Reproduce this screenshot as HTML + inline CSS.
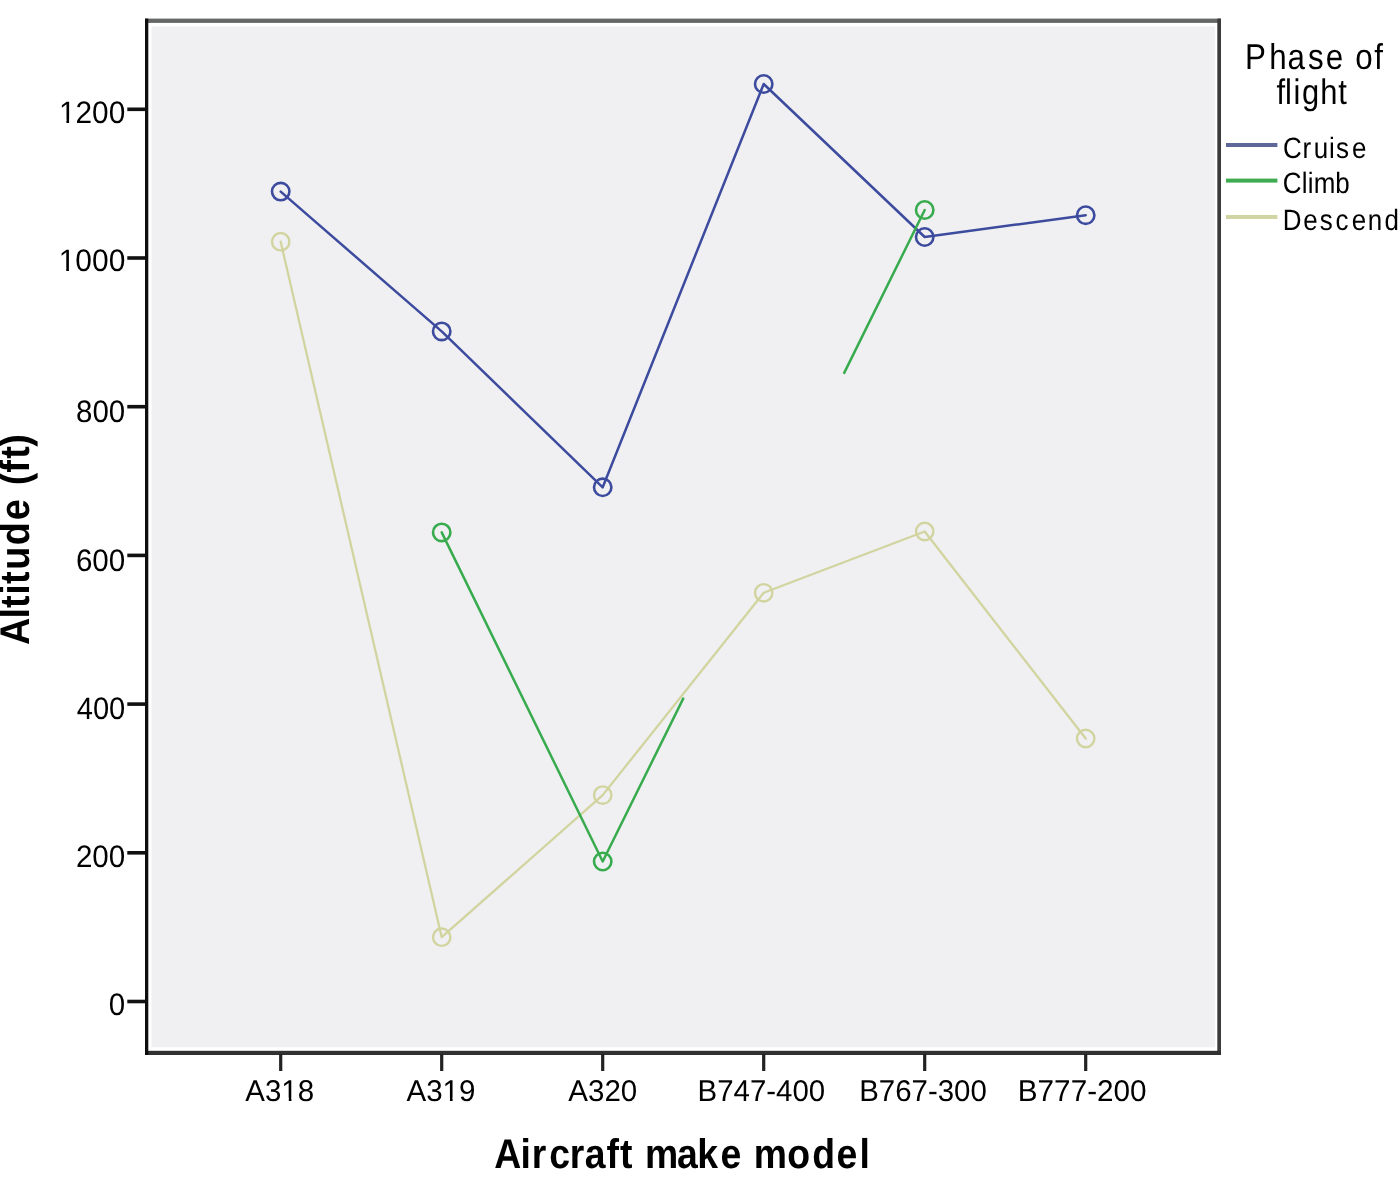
<!DOCTYPE html><html><head><meta charset="utf-8"><style>html,body{margin:0;padding:0;background:#fff;overflow:hidden;width:1400px;height:1185px}svg{display:block;filter:blur(0.5px)}text{font-family:"Liberation Sans",sans-serif;fill:#000;text-rendering:geometricPrecision}</style></head><body>
<svg width="1400" height="1185" viewBox="0 0 1400 1185">
<rect x="0" y="0" width="1400" height="1185" fill="#fff"/>
<rect x="151.5" y="26.5" width="1063.7" height="1020.8" fill="#f0f0f2"/>
<rect x="145" y="18.6" width="1076" height="4.3" fill="#656766"/>
<rect x="1217.3" y="18.6" width="3.7" height="1036.4" fill="#3a3a3a"/>
<rect x="145" y="1050.8" width="1076" height="4.2" fill="#313131"/>
<rect x="145" y="18.6" width="3.3" height="1036.4" fill="#0e0e0e"/>
<rect x="127.3" y="999.7" width="18" height="3.6" fill="#111"/>
<text x="108.85" y="1014.80" font-size="31" textLength="16.40" lengthAdjust="spacingAndGlyphs">0</text>
<rect x="127.3" y="851.0" width="18" height="3.6" fill="#111"/>
<text x="75.91" y="866.50" font-size="31" textLength="49.34" lengthAdjust="spacingAndGlyphs">200</text>
<rect x="127.3" y="702.3" width="18" height="3.6" fill="#111"/>
<text x="76.73" y="718.50" font-size="31" textLength="48.50" lengthAdjust="spacingAndGlyphs">400</text>
<rect x="127.3" y="553.6" width="18" height="3.6" fill="#111"/>
<text x="75.90" y="570.70" font-size="31" textLength="49.36" lengthAdjust="spacingAndGlyphs">600</text>
<rect x="127.3" y="404.9" width="18" height="3.6" fill="#111"/>
<text x="76.12" y="422.00" font-size="31" textLength="49.13" lengthAdjust="spacingAndGlyphs">800</text>
<rect x="127.3" y="256.2" width="18" height="3.6" fill="#111"/>
<text x="58.72" y="271.20" font-size="31" textLength="66.55" lengthAdjust="spacingAndGlyphs">1000</text><rect x="60.33" y="267.84" width="5.89" height="4.96" fill="#fff"/><rect x="68.92" y="267.84" width="5.80" height="4.96" fill="#fff"/>
<rect x="127.3" y="107.5" width="18" height="3.6" fill="#111"/>
<text x="58.93" y="122.80" font-size="31" textLength="66.33" lengthAdjust="spacingAndGlyphs">1200</text><rect x="60.53" y="119.44" width="5.87" height="4.96" fill="#fff"/><rect x="69.09" y="119.44" width="5.78" height="4.96" fill="#fff"/>
<rect x="279.1" y="1054" width="3.2" height="17" fill="#222"/>
<text x="245.34" y="1101.00" font-size="30" textLength="68.84" lengthAdjust="spacingAndGlyphs">A318</text><rect x="282.98" y="1097.71" width="5.80" height="4.89" fill="#fff"/><rect x="291.44" y="1097.71" width="5.71" height="4.89" fill="#fff"/>
<rect x="440.1" y="1054" width="3.2" height="17" fill="#222"/>
<text x="406.44" y="1101.00" font-size="30" textLength="68.96" lengthAdjust="spacingAndGlyphs">A319</text><rect x="444.14" y="1097.71" width="5.81" height="4.89" fill="#fff"/><rect x="452.62" y="1097.71" width="5.72" height="4.89" fill="#fff"/>
<rect x="601.1" y="1054" width="3.2" height="17" fill="#222"/>
<text x="568.34" y="1101.00" font-size="30" textLength="68.91" lengthAdjust="spacingAndGlyphs">A320</text>
<rect x="762.1" y="1054" width="3.2" height="17" fill="#222"/>
<text x="697.59" y="1101.00" font-size="30" textLength="127.56" lengthAdjust="spacingAndGlyphs">B747-400</text>
<rect x="923.1" y="1054" width="3.2" height="17" fill="#222"/>
<text x="859.19" y="1101.00" font-size="30" textLength="127.56" lengthAdjust="spacingAndGlyphs">B767-300</text>
<rect x="1084.1" y="1054" width="3.2" height="17" fill="#222"/>
<text x="1017.76" y="1101.00" font-size="30" textLength="128.90" lengthAdjust="spacingAndGlyphs">B777-200</text>
<text transform="scale(0.9,1)" x="549.16 578.37 590.87 610.15 633.09 649.61 673.92 688.98 702.80 716.69 752.16 774.66 800.69 823.77 837.58 874.66 902.51 929.47 955.03" y="1168.30" font-size="41.5" font-weight="bold">Aircraft make model</text>
<g transform="rotate(-90)"><text transform="scale(0.91,1)" x="-708.69 -679.70 -668.12 -653.55 -641.64 -626.11 -599.19 -571.75 -548.67 -533.20 -519.61 -504.16 -491.06" y="29.40" font-size="41.5" font-weight="bold">Altitude (ft)</text></g>
<polyline points="280.7,191.6 441.7,331.4 602.7,487.3 763.7,84.0 924.7,237.0 1085.7,215.2" fill="none" stroke="#3c4b9e" stroke-width="2.5" stroke-linejoin="round" stroke-linecap="round"/>
<circle cx="280.7" cy="191.6" r="8.7" fill="none" stroke="#3c4b9e" stroke-width="2.6"/>
<circle cx="441.7" cy="331.4" r="8.7" fill="none" stroke="#3c4b9e" stroke-width="2.6"/>
<circle cx="602.7" cy="487.3" r="8.7" fill="none" stroke="#3c4b9e" stroke-width="2.6"/>
<circle cx="763.7" cy="84.0" r="8.7" fill="none" stroke="#3c4b9e" stroke-width="2.6"/>
<circle cx="924.7" cy="237.0" r="8.7" fill="none" stroke="#3c4b9e" stroke-width="2.6"/>
<circle cx="1085.7" cy="215.2" r="8.7" fill="none" stroke="#3c4b9e" stroke-width="2.6"/>
<polyline points="280.7,241.7 441.7,937.2 602.7,795.1 763.7,592.8 924.7,531.5 1085.7,738.5" fill="none" stroke="#d2d4a0" stroke-width="2.3" stroke-linejoin="round" stroke-linecap="round"/>
<circle cx="280.7" cy="241.7" r="8.7" fill="none" stroke="#d2d4a0" stroke-width="2.4"/>
<circle cx="441.7" cy="937.2" r="8.7" fill="none" stroke="#d2d4a0" stroke-width="2.4"/>
<circle cx="602.7" cy="795.1" r="8.7" fill="none" stroke="#d2d4a0" stroke-width="2.4"/>
<circle cx="763.7" cy="592.8" r="8.7" fill="none" stroke="#d2d4a0" stroke-width="2.4"/>
<circle cx="924.7" cy="531.5" r="8.7" fill="none" stroke="#d2d4a0" stroke-width="2.4"/>
<circle cx="1085.7" cy="738.5" r="8.7" fill="none" stroke="#d2d4a0" stroke-width="2.4"/>
<polyline points="441.7,532.4 602.7,861.5 683.2,698.6" fill="none" stroke="#38ab4e" stroke-width="2.5" stroke-linejoin="round" stroke-linecap="round"/>
<polyline points="844.2,372.9 924.7,210.0" fill="none" stroke="#38ab4e" stroke-width="2.5" stroke-linejoin="round" stroke-linecap="round"/>
<circle cx="441.7" cy="532.4" r="8.7" fill="none" stroke="#38ab4e" stroke-width="2.6"/>
<circle cx="602.7" cy="861.5" r="8.7" fill="none" stroke="#38ab4e" stroke-width="2.6"/>
<circle cx="924.7" cy="210.0" r="8.7" fill="none" stroke="#38ab4e" stroke-width="2.6"/>
<text transform="scale(0.87,1)" x="1431.14 1458.88 1479.91 1503.33 1523.93 1543.95 1557.81 1579.55" y="69.00" font-size="36">Phase of</text>
<text transform="scale(0.87,1)" x="1467.20 1477.08 1486.75 1496.50 1517.64 1538.26" y="104.00" font-size="35.5">flight</text>
<rect x="1226" y="143.0" width="51.4" height="4" fill="#5d6898"/>
<text transform="scale(0.88,1)" x="1457.91 1480.15 1492.95 1510.25 1518.09 1536.48" y="158.00" font-size="29.5">Cruise</text>
<rect x="1226" y="178.6" width="51.4" height="4" fill="#3fab50"/>
<text transform="scale(0.88,1)" x="1457.80 1479.22 1486.05 1492.93 1517.26" y="192.90" font-size="29.5">Climb</text>
<rect x="1226" y="215.0" width="51.4" height="4" fill="#d0d5a3"/>
<text transform="scale(0.88,1)" x="1457.71 1480.92 1499.79 1517.50 1536.14 1554.16 1573.26" y="230.40" font-size="29.5">Descend</text>
</svg></body></html>
